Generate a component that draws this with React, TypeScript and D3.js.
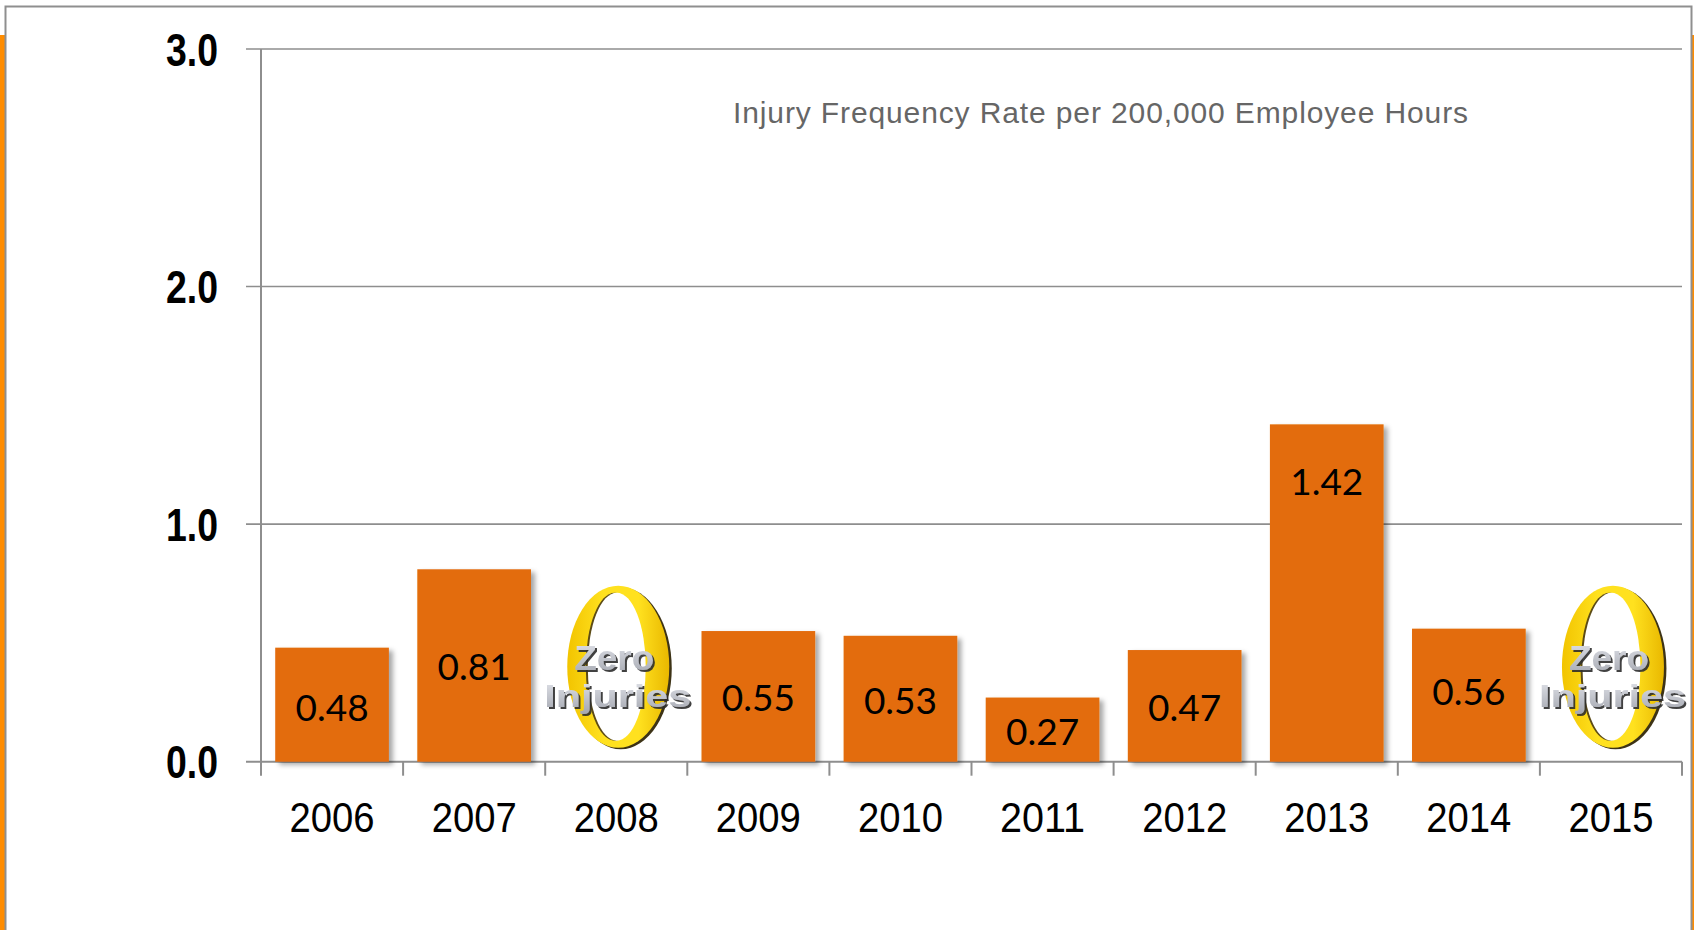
import React from 'react';
import * as d3 from 'd3';

// chart data
const years = ['2006', '2007', '2008', '2009', '2010', '2011', '2012', '2013', '2014', '2015'];
const rates: (number | null)[] = [0.48, 0.81, null, 0.55, 0.53, 0.27, 0.47, 1.42, 0.56, null];
// where each value label sits (in rate units) - labels were hand placed in the original
const labelLevels: (number | null)[] = [0.227, 0.4, null, 0.268, 0.255, 0.128, 0.227, 1.178, 0.296, null];
const yTicks = [0, 1, 2, 3];
const title = 'Injury Frequency Rate per 200,000 Employee Hours';

const W = 1694;
const H = 930;
const plot = { left: 261, right: 1682, top: 49, bottom: 761.7 };

// no narrow font installed, so squeeze Liberation Sans with textLength
const sans = "'Liberation Sans', Arial, sans-serif";
const gridColor = '#8e8e8e';

const ZeroLogo: React.FC<{ cx: number; cy: number }> = ({ cx, cy }) => (
    <g transform={`translate(${cx},${cy})`}>
        {/* the big yellow 0 */}
        <ellipse cx={2.5} cy={1.5} rx={51} ry={81} fill="#3d3316" />
        <ellipse cx={0} cy={0} rx={51} ry={81} fill="url(#zeroGold)" />
        <ellipse cx={-3.5} cy={0} rx={29} ry={74} fill="#5c4b16" />
        <ellipse cx={-1.5} cy={0} rx={29} ry={74} fill="#ffffff" />
        {/* Zero / Injuries words */}
        <g filter="url(#wordShadow)" fontFamily={sans} fontWeight="bold" fill="url(#zeroSilver)">
            <text x={-44} y={3} fontSize={35} textLength={80} lengthAdjust="spacingAndGlyphs">Zero</text>
            <text x={-74} y={40} fontSize={32} textLength={147} lengthAdjust="spacingAndGlyphs">Injuries</text>
        </g>
    </g>
);

export default function App() {
    const x = d3
        .scaleBand<string>()
        .domain(years)
        .range([plot.left, plot.right])
        .paddingInner(0.2)
        .paddingOuter(0.1);

    const y = d3.scaleLinear().domain([0, 3]).range([plot.bottom, plot.top]);

    const step = x.step();
    const boundaries = d3.range(years.length + 1).map((i) => plot.left + i * step);

    return (
        <svg
            width={W}
            height={H}
            style={{ position: 'absolute', left: 0, top: 0, background: '#fff' }}
        >
            <defs>
                <filter id="barShadow" x="-10%" y="-10%" width="130%" height="130%">
                    <feDropShadow dx={4} dy={3} stdDeviation={2.5} floodColor="#000" floodOpacity={0.35} />
                </filter>
                <filter id="wordShadow" x="-10%" y="-20%" width="130%" height="150%">
                    <feDropShadow dx={2} dy={2} stdDeviation={0.6} floodColor="#2e2e2e" floodOpacity={0.9} />
                </filter>
                <linearGradient id="zeroGold" x1="0" y1="0" x2="1" y2="0">
                    <stop offset="0" stopColor="#f2c400" />
                    <stop offset="0.35" stopColor="#ffe11f" />
                    <stop offset="0.7" stopColor="#ffe11f" />
                    <stop offset="1" stopColor="#e9b800" />
                </linearGradient>
                <linearGradient id="zeroSilver" x1="0" y1="0" x2="0" y2="1">
                    <stop offset="0" stopColor="#e4e6ec" />
                    <stop offset="1" stopColor="#a4a7b0" />
                </linearGradient>
            </defs>

            {/* slide frame with orange side accents */}
            <rect x={0} y={35} width={5} height={H - 35} fill="#ff8c00" />
            <rect x={1692} y={35} width={2} height={H - 35} fill="#ff8c00" />
            <path d={`M5.5,${H} V6.5 H1691.5 V${H}`} fill="none" stroke="#8f8f8f" strokeWidth={2} />

            {/* gridlines and y axis */}
            {yTicks.map((t) => (
                <line key={t} x1={246} x2={plot.right} y1={y(t)} y2={y(t)}
                    stroke={gridColor} strokeWidth={t === 0 ? 2 : 1.6} />
            ))}
            <line x1={plot.left} x2={plot.left} y1={plot.top} y2={plot.bottom} stroke={gridColor} strokeWidth={2} />
            {boundaries.map((bx, i) => (
                <line key={i} x1={bx} x2={bx} y1={plot.bottom} y2={plot.bottom + 14} stroke={gridColor} strokeWidth={2} />
            ))}

            {/* y tick labels */}
            {yTicks.map((t) => (
                <text key={t} x={218} y={y(t)} dy="0.36em" textAnchor="end"
                    fontFamily={sans} fontWeight="bold" fontSize={46} fill="#000"
                    textLength={52} lengthAdjust="spacingAndGlyphs">
                    {d3.format('.1f')(t)}
                </text>
            ))}

            {/* bars */}
            {years.map((yr, i) =>
                rates[i] == null ? null : (
                    <rect key={yr} x={x(yr)} y={y(rates[i] as number)} width={x.bandwidth()}
                        height={y(0) - y(rates[i] as number)} fill="#e36c0a" filter="url(#barShadow)" />
                )
            )}

            {/* zero injury years */}
            {years.map((yr, i) =>
                rates[i] == null ? (
                    <ZeroLogo key={yr} cx={(x(yr) as number) + x.bandwidth() / 2 + 2} cy={plot.bottom - 95} />
                ) : null
            )}

            {/* value labels */}
            {years.map((yr, i) =>
                rates[i] == null ? null : (
                    <text key={yr} x={(x(yr) as number) + x.bandwidth() / 2} y={y(labelLevels[i] as number)}
                        dy="0.36em" textAnchor="middle" fontFamily="Lato, 'Open Sans', sans-serif"
                        fontSize={37} fill="#000">
                        {d3.format('.2f')(rates[i] as number)}
                    </text>
                )
            )}

            {/* x tick labels */}
            {years.map((yr) => (
                <text key={yr} x={(x(yr) as number) + x.bandwidth() / 2} y={832} textAnchor="middle"
                    fontFamily={sans} fontSize={42} fill="#000"
                    textLength={85} lengthAdjust="spacingAndGlyphs">
                    {yr}
                </text>
            ))}

            {/* chart caption */}
            <text x={733} y={123} fontFamily={sans} fontSize={30}
                textLength={735} lengthAdjust="spacing" fill="#666">
                {title}
            </text>
        </svg>
    );
}
